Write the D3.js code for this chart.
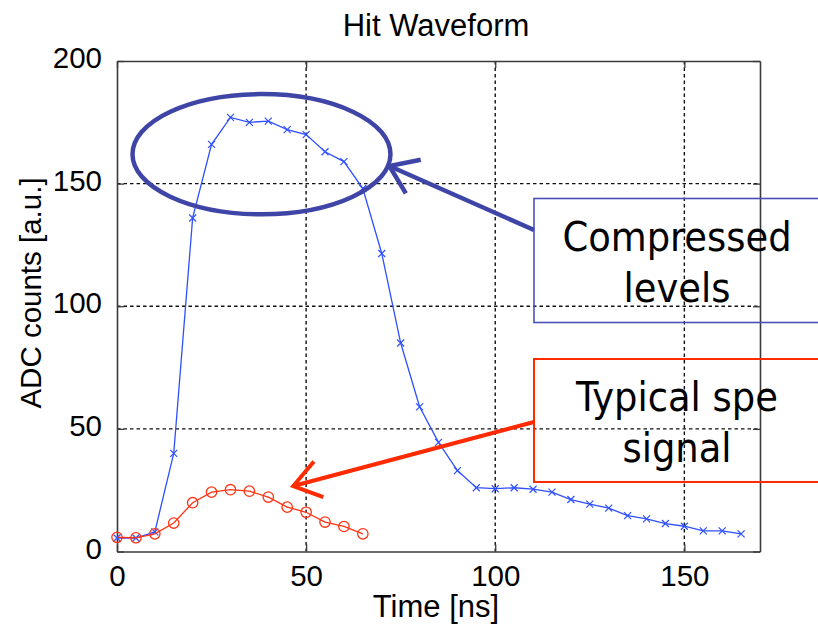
<!DOCTYPE html>
<html><head><meta charset="utf-8">
<script src="https://cdn.jsdelivr.net/npm/d3@7"></script>
<style>
html,body{margin:0;padding:0;background:#fff;}
svg{display:block;}
</style></head>
<body>
<svg id="chart" width="818" height="629"></svg>
<script>
// ---- data ----
const blueTime = [0,5,10,15,20,25,30,35,40,45,50,55,60,65,70,75,80,85,90,95,100,105,110,115,120,125,130,135,140,145,150,155,160,165];
const blueValues = [5.5,5.5,8,40,136,166,177,175,175.5,172,170,163,159,148,121.5,85,59,44.5,33,26,25.6,26,25.4,24.2,21.2,19.3,17.7,14.6,13.3,11.4,10.3,8.4,8.4,7.2];
const redTime = [0,5,10,15,20,25,30,35,40,45,50,55,60,65];
const redValues = [5.8,5.6,7.2,11.6,19.9,24.2,25.2,24.6,22.2,18.1,16,12,10.2,7.2];
const xTicks = [0,50,100,150];
const yTicks = [0,50,100,150,200];
const titleText = "Hit Waveform";
const xLabel = "Time [ns]";
const yLabel = "ADC counts [a.u.]";
const blueNote = ["Compressed","levels"];
const redNote = ["Typical spe","signal"];

// ---- layout ----
const L = 117, R = 760, T = 61, B = 551.5;
const svg = d3.select("#chart");
const x = d3.scaleLinear().domain([0,170]).range([L,R]);
const y = d3.scaleLinear().domain([0,200]).range([B,T]);
const axisCol = "#3a3a3a";
const font = "'Liberation Sans', Arial, Helvetica, sans-serif";
const noteFont = "'DejaVu Sans Condensed', 'Liberation Sans', Arial, sans-serif";

// grid
const grid = svg.append("g").attr("stroke","#111").attr("stroke-width",1.4).attr("stroke-dasharray","3.5,3");
grid.selectAll(".gx").data(xTicks.filter(d=>d>0)).enter().append("line")
  .attr("x1",d=>x(d)).attr("x2",d=>x(d)).attr("y1",T).attr("y2",B);
grid.selectAll(".gy").data(yTicks.filter(d=>d>0 && d<200)).enter().append("line")
  .attr("y1",d=>y(d)).attr("y2",d=>y(d)).attr("x1",L).attr("x2",R);

// axes (box + inward ticks)
const xAxisB = d3.axisBottom(x).tickValues(xTicks).tickSizeInner(-7).tickSizeOuter(0).tickFormat(d3.format("d")).tickPadding(14);
const xAxisT = d3.axisTop(x).tickValues(xTicks).tickSizeInner(-7).tickSizeOuter(0).tickFormat("");
const yAxisL = d3.axisLeft(y).tickValues(yTicks).tickSizeInner(-7).tickSizeOuter(0).tickFormat(d3.format("d")).tickPadding(15);
const yAxisR = d3.axisRight(y).tickValues(yTicks).tickSizeInner(-7).tickSizeOuter(0).tickFormat("");
function styleAxis(g){
  g.select(".domain").attr("stroke",axisCol).attr("stroke-width",1.6);
  g.selectAll(".tick line").attr("stroke",axisCol).attr("stroke-width",1.3);
  g.selectAll(".tick text").attr("fill","#000").style("font-family",font).style("font-size","29.5px");
}
svg.append("g").attr("transform",`translate(0,${B})`).call(xAxisB).call(styleAxis);
svg.append("g").attr("transform",`translate(0,${T})`).call(xAxisT).call(styleAxis);
const yl = svg.append("g").attr("transform",`translate(${L},0)`).call(yAxisL).call(styleAxis);
yl.selectAll(".tick text").attr("dy","0.22em");
svg.append("g").attr("transform",`translate(${R},0)`).call(yAxisR).call(styleAxis);

// labels
svg.append("text").attr("x",436).attr("y",36).attr("text-anchor","middle")
  .style("font-family",font).style("font-size","31px").text(titleText);
svg.append("text").attr("x",436).attr("y",617).attr("text-anchor","middle")
  .style("font-family",font).style("font-size","31px").text(xLabel);
svg.append("text").attr("transform","translate(41,293) rotate(-90)").attr("text-anchor","middle")
  .style("font-family",font).style("font-size","29.5px").text(yLabel);

// series
const blueCol = "#2f50ff", redCol = "#ff3314";
const bluePts = blueTime.map((t,i)=>[t,blueValues[i]]);
const redPts = redTime.map((t,i)=>[t,redValues[i]]);
const line = d3.line().x(d=>x(d[0])).y(d=>y(d[1]));
svg.append("path").datum(bluePts).attr("d",line).attr("fill","none").attr("stroke",blueCol).attr("stroke-width",1.3);
const s = 3.5;
svg.append("g").selectAll("path").data(bluePts).enter().append("path")
  .attr("d",d=>{const cx=x(d[0]),cy=y(d[1]);return `M${cx-s},${cy-s}L${cx+s},${cy+s}M${cx-s},${cy+s}L${cx+s},${cy-s}`;})
  .attr("stroke",blueCol).attr("stroke-width",1.2).attr("fill","none");
svg.append("path").datum(redPts).attr("d",line).attr("fill","none").attr("stroke",redCol).attr("stroke-width",1.3);
svg.append("g").selectAll("circle").data(redPts).enter().append("circle")
  .attr("cx",d=>x(d[0])).attr("cy",d=>y(d[1])).attr("r",5.2)
  .attr("fill","none").attr("stroke",redCol).attr("stroke-width",1.3);

// annotations
const ellCol = "#3f45a6";
svg.append("ellipse").attr("cx",x(38.2)).attr("cy",y(162)).attr("rx",x(34.1)-x(0)).attr("ry",y(0)-y(24.5))
  .attr("fill","none").attr("stroke",ellCol).attr("stroke-width",4.5);

function arrow(x0,y0,tx,ty,col,w){
  const g = svg.append("g").attr("stroke",col).attr("stroke-width",w).attr("fill","none").attr("stroke-linecap","butt");
  g.append("line").attr("x1",x0).attr("y1",y0).attr("x2",tx).attr("y2",ty);
  const a = Math.atan2(y0-ty,x0-tx), len = 32, sp = 35*Math.PI/180;
  g.append("path").attr("d",`M${tx+len*Math.cos(a-sp)},${ty+len*Math.sin(a-sp)}L${tx},${ty}L${tx+len*Math.cos(a+sp)},${ty+len*Math.sin(a+sp)}`);
}
arrow(534,230,x(72),y(157.2),ellCol,4.5);
arrow(534,422,x(46.6),y(26.7),"#ff2a00",4);

// note boxes
svg.append("rect").attr("x",534).attr("y",198.5).attr("width",300).attr("height",124)
  .attr("fill","none").attr("stroke","#4a50b8").attr("stroke-width",1.6);
svg.append("rect").attr("x",534).attr("y",359).attr("width",300).attr("height",123)
  .attr("fill","none").attr("stroke","#ff2a00").attr("stroke-width",2);
svg.append("g").selectAll("text").data(blueNote).enter().append("text")
  .attr("x",677).attr("y",(d,i)=>251+i*51).attr("text-anchor","middle")
  .style("font-family",noteFont).style("font-size","41px").text(d=>d);
svg.append("g").selectAll("text").data(redNote).enter().append("text")
  .attr("x",677).attr("y",(d,i)=>411+i*51).attr("text-anchor","middle")
  .style("font-family",noteFont).style("font-size","41px").text(d=>d);
</script>
</body></html>
